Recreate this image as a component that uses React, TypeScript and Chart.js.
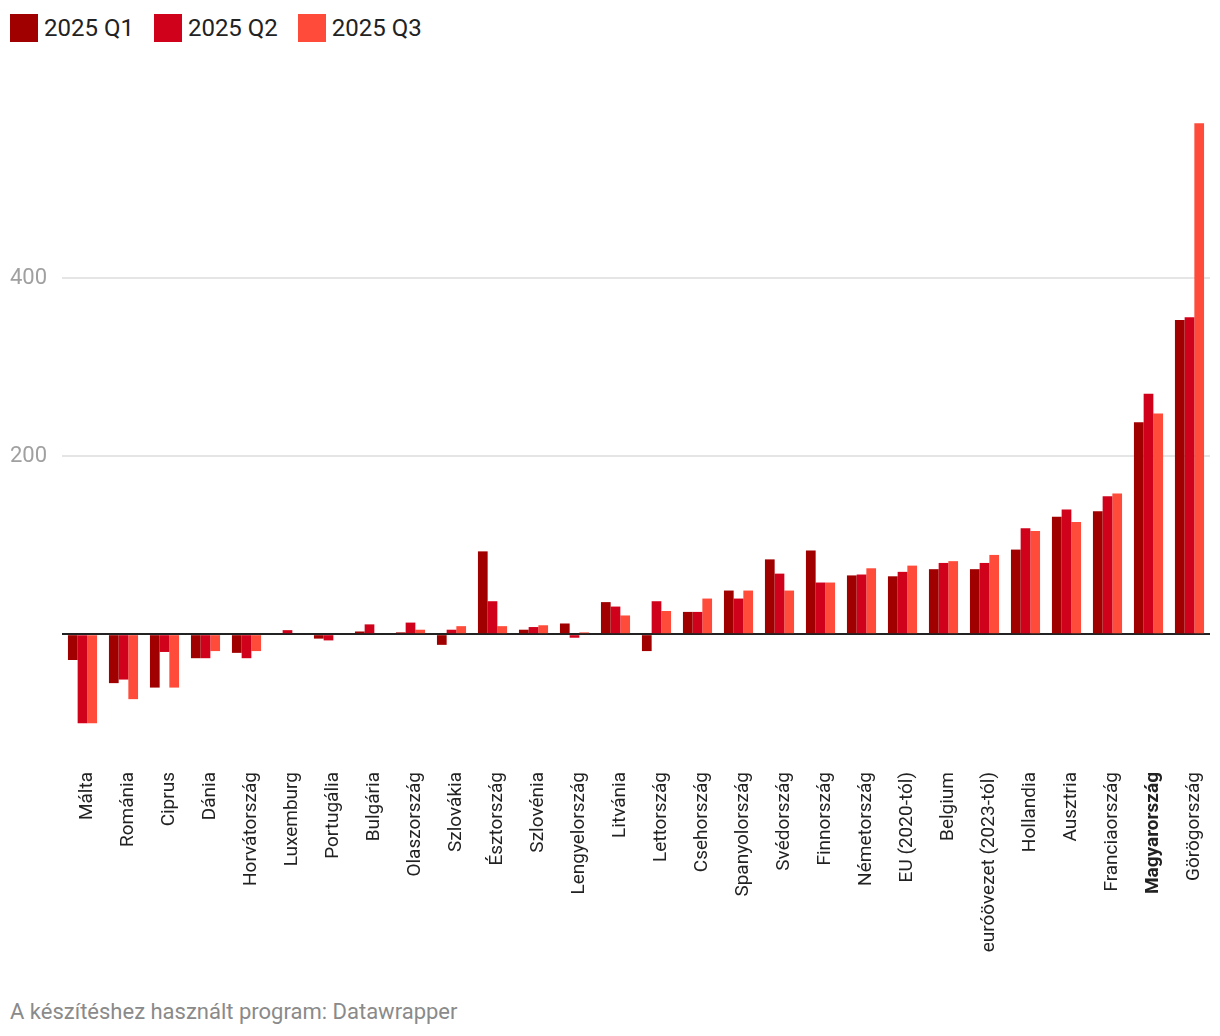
import React, { useEffect, useRef } from "react";
import { Chart, registerables } from "chart.js";

Chart.register(...registerables);

const categories = [
  "Málta", "Románia", "Ciprus", "Dánia", "Horvátország", "Luxemburg", "Portugália",
  "Bulgária", "Olaszország", "Szlovákia", "Észtország", "Szlovénia", "Lengyelország",
  "Litvánia", "Lettország", "Csehország", "Spanyolország", "Svédország", "Finnország",
  "Németország", "EU (2020-tól)", "Belgium", "euróövezet (2023-tól)", "Hollandia",
  "Ausztria", "Franciaország", "Magyarország", "Görögország",
];

const seriesNames = ["2025 Q1", "2025 Q2", "2025 Q3"];
const seriesColors = ["#a00000", "#d0021b", "#ff4b3a"];

const q1 = [-29, -55, -60, -27, -21, 0, -5, 3, 2, -12, 93, 5, 12, 36, -19, 25, 49, 84, 94, 66, 65, 73, 73, 95, 132, 138, 238, 353];
const q2 = [-100, -51, -20, -27, -27, 4.5, -7, 11, 13, 5, 37, 8, -4, 31, 37, 25, 40, 68, 58, 67, 70, 80, 80, 119, 140, 155, 270, 356];
const q3 = [-100, -73, -60, -19, -19, 0, 0, 0, 5, 9, 9, 10, 2, 21, 26, 40, 49, 49, 58, 74, 77, 82, 89, 116, 126, 158, 248, 574];

const yTickLabels = [200, 400];
const highlighted = "Magyarország";

const FONT = "Roboto, 'Noto Sans', sans-serif";

export default function App() {
  const canvasRef = useRef<HTMLCanvasElement | null>(null);

  useEffect(() => {
    if (!canvasRef.current) return;
    const values = [q1, q2, q3];
    const chart = new Chart(canvasRef.current, {
      type: "bar",
      data: {
        labels: categories,
        datasets: seriesNames.map((name, i) => ({
          label: name,
          data: values[i],
          backgroundColor: seriesColors[i],
          borderWidth: 0,
          categoryPercentage: 0.71,
          barPercentage: 1.0,
        })),
      },
      options: {
        animation: false,
        responsive: true,
        maintainAspectRatio: false,
        layout: { padding: { top: 50, left: 2, right: 2, bottom: 0 } },
        plugins: {
          legend: { display: false },
          tooltip: { enabled: false },
        },
        scales: {
          x: {
            grid: { display: false, drawTicks: false },
            border: { display: false },
            ticks: {
              autoSkip: false,
              maxRotation: 90,
              minRotation: 90,
              padding: 31,
              labelOffset: 5,
              color: "#222",
              font: (ctx: any) => ({
                family: FONT,
                size: 19,
                weight: categories[ctx.index] === highlighted ? "bold" : "normal",
              }),
            },
            afterFit: (scale: any) => {
              scale.height = 249;
              scale.paddingLeft = 0;
              scale.paddingRight = 0;
            },
          },
          y: {
            min: -120,
            max: 600,
            border: { display: false },
            grid: {
              drawTicks: false,
              color: (ctx: any) => {
                const v = ctx.tick ? ctx.tick.value : null;
                if (v === 0) return "#222";
                if (yTickLabels.includes(v)) return "#e5e5e5";
                return "rgba(0,0,0,0)";
              },
              lineWidth: 2,
            },
            ticks: {
              stepSize: 200,
              crossAlign: "far",
              padding: 0,
              color: "#a0a0a0",
              font: { family: FONT, size: 22 },
              callback: (v: any) => (yTickLabels.includes(Number(v)) ? String(v) : ""),
            },
            afterFit: (scale: any) => {
              scale.width = 52;
              scale.paddingTop = 0;
              scale.paddingBottom = 0;
            },
          },
        },
      },
    });
    return () => chart.destroy();
  }, []);

  return (
    <div style={{ position: "relative", width: 1204, height: 1020, fontFamily: FONT }}>
      <div
        style={{
          position: "absolute",
          top: 6,
          left: 2,
          display: "flex",
          alignItems: "center",
          gap: 20,
          height: 28,
        }}
      >
        {seriesNames.map((name, i) => (
          <div key={name} style={{ display: "flex", alignItems: "center", gap: 6 }}>
            <div style={{ width: 28, height: 28, background: seriesColors[i] }} />
            <span style={{ fontSize: 24, color: "#222", lineHeight: "28px" }}>{name}</span>
          </div>
        ))}
      </div>
      <div style={{ position: "absolute", top: 42, left: 0, width: 1204, height: 940 }}>
        <canvas ref={canvasRef} />
      </div>
      <div
        style={{
          position: "absolute",
          top: 993,
          left: 2,
          fontSize: 22,
          lineHeight: "22px",
          color: "#8a8a8a",
          whiteSpace: "nowrap",
        }}
      >
        A készítéshez használt program: Datawrapper
      </div>
    </div>
  );
}
